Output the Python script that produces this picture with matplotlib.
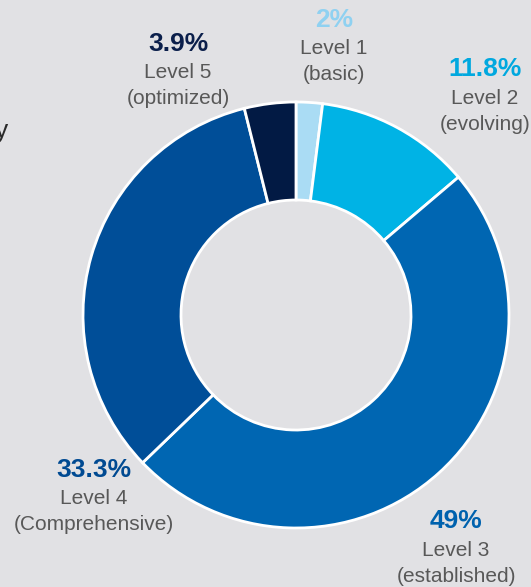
import matplotlib.pyplot as plt

# Data
levels = ["Level 1\n(basic)", "Level 2\n(evolving)", "Level 3\n(established)",
          "Level 4\n(Comprehensive)", "Level 5\n(optimized)"]
shares = [2.0, 11.8, 49.0, 33.3, 3.9]
pct_labels = ["2%", "11.8%", "49%", "33.3%", "3.9%"]

wedge_colors = ["#aadcf4", "#00b3e5", "#0066b2", "#004e98", "#021a44"]
text_colors = ["#8fd1f1", "#00a8df", "#0062ae", "#004a92", "#0b1f4b"]

# label anchors in pixel coords (x, y from top) for the percentage line
label_pos = [(334, 20), (485, 69), (456, 521), (94, 470), (178, 44)]

W, H = 531, 587
bg = "#e1e1e4"

fig = plt.figure(figsize=(W / 100, H / 100), dpi=100, facecolor=bg)
ax = fig.add_axes([0, 0, 1, 1])
ax.set_facecolor(bg)

ax.pie(shares, colors=wedge_colors, center=(296, H - 315), radius=213,
       startangle=90, counterclock=False,
       wedgeprops=dict(width=98, edgecolor="white", linewidth=2))

ax.set_xlim(0, W)
ax.set_ylim(0, H)
ax.set_aspect("equal")
ax.axis("off")

font = "Liberation Sans"
for lab, pct, col, (x, y) in zip(levels, pct_labels, text_colors, label_pos):
    ax.text(x, H - y, pct, color=col, fontsize=19, fontweight="bold",
            family=font, ha="center", va="center")
    line1, line2 = lab.split("\n")
    ax.text(x, H - y - 29, line1, color="#585858", fontsize=15,
            family=font, ha="center", va="center")
    ax.text(x, H - y - 55, line2, color="#585858", fontsize=15,
            family=font, ha="center", va="center")

# cut-off text at left edge
ax.text(2, H - 131, "y", color="#2a2a2a", fontsize=19, family=font,
        ha="center", va="center")

fig.savefig("out.png", dpi=100, facecolor=bg)
